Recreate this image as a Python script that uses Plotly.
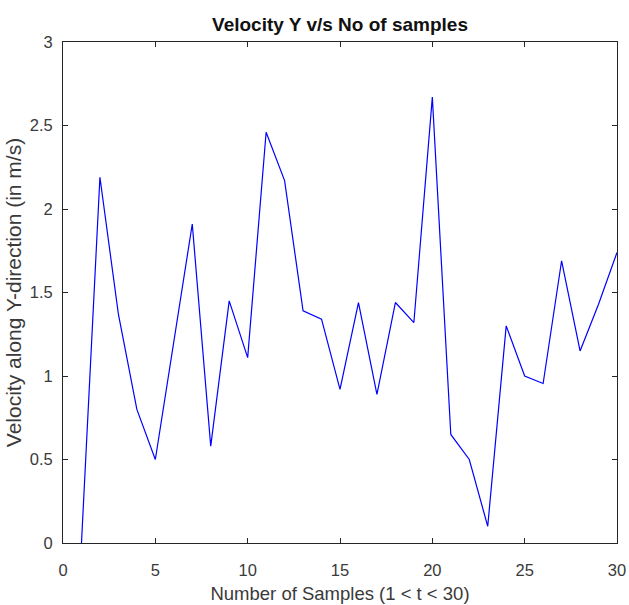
import plotly.graph_objects as go

samples = list(range(1, 31))
velocity_y = [0.0, 2.19, 1.37, 0.80, 0.50, 1.21, 1.91, 0.58, 1.45, 1.11,
              2.46, 2.17, 1.39, 1.34, 0.92, 1.44, 0.89, 1.44, 1.32, 2.67,
              0.65, 0.50, 0.10, 1.30, 1.00, 0.955, 1.69, 1.15, 1.43, 1.74]

x_ticks = [0, 5, 10, 15, 20, 25, 30]
y_ticks = [0, 0.5, 1, 1.5, 2, 2.5, 3]
y_tick_labels = ["0", "0.5", "1", "1.5", "2", "2.5", "3"]

fig = go.Figure()
fig.add_trace(go.Scatter(x=samples, y=velocity_y, mode="lines",
                         line=dict(color="#0000ff", width=1.2),
                         showlegend=False))

font_family = "Liberation Sans, Arial, sans-serif"
axis_common = dict(showgrid=False, zeroline=False, showline=True,
                   linecolor="#262626", linewidth=1, mirror="ticks",
                   ticks="inside", ticklen=5, tickcolor="#262626",
                   automargin=False,
                   tickfont=dict(family=font_family, size=16.5, color="#3a3a3a"))

fig.update_layout(
    width=629, height=605,
    margin=dict(l=63, r=12, t=42, b=62),
    paper_bgcolor="white", plot_bgcolor="white",
    title=dict(text="<b>Velocity Y v/s No of samples</b>",
               font=dict(family=font_family, size=19, color="#111111"),
               x=0.5, xanchor="center", xref="paper", y=1 - 24 / 605, yanchor="middle", yref="container"),
    xaxis=dict(range=[0, 30], tickvals=x_ticks, ticklabelstandoff=12,
               title=dict(text="Number of Samples (1 < t < 30)", standoff=9,
                          font=dict(family=font_family, size=18.5, color="#3a3a3a")),
               **axis_common),
    yaxis=dict(range=[0, 3], tickvals=y_ticks, ticktext=y_tick_labels, ticklabelstandoff=6,
               title=dict(text="Velocity along Y-direction (in m/s)", standoff=2,
                          font=dict(family=font_family, size=21, color="#3a3a3a")),
               **axis_common),
)

fig.write_html("out.html")
